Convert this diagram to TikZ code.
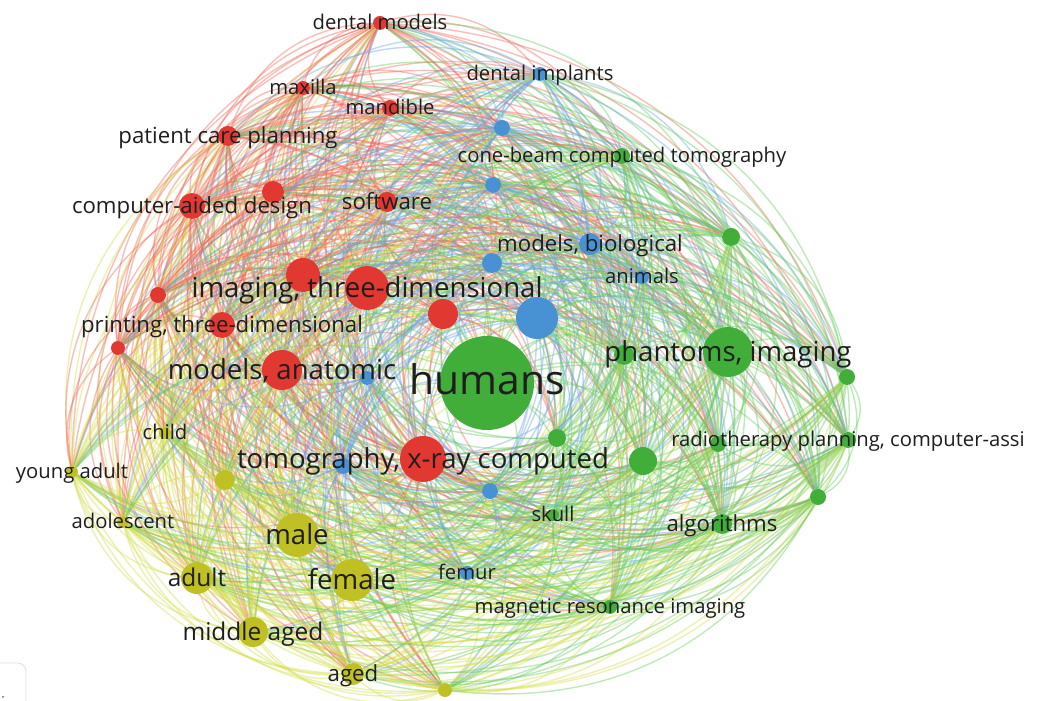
\documentclass[tikz,border=0pt]{standalone}
\usepackage{fontspec}
\setmainfont{Open Sans}
\usetikzlibrary{backgrounds}

\definecolor{nr}{RGB}{226,56,50}
\definecolor{nb}{RGB}{72,146,212}
\definecolor{ng}{RGB}{66,174,58}
\definecolor{ny}{RGB}{192,192,36}
\definecolor{er}{RGB}{240,104,88}
\definecolor{eb}{RGB}{106,166,226}
\definecolor{eg}{RGB}{104,204,92}
\definecolor{ey}{RGB}{212,222,70}
\definecolor{txt}{RGB}{30,30,30}

\tikzset{
  bubble/.style={circle, fill=n#1, inner sep=0pt},
  link/.style={line width=1pt, opacity=0.42},
  tag/.style={text=txt, inner sep=0pt, text height=1ex, text depth=0pt},
  tagS/.style={tag, font=\fontsize{14.4}{16}\selectfont, yshift=-0.08cm},
  tagM/.style={tag, font=\fontsize{15.8}{18}\selectfont, yshift=-0.1cm},
  tagA/.style={tag, font=\fontsize{17.4}{20}\selectfont, yshift=-0.12cm},
  tagL/.style={tag, font=\fontsize{19.6}{22}\selectfont, yshift=-0.15cm},
  tagH/.style={tag, font=\fontsize{29}{32}\selectfont, yshift=-0.2cm}
}

% name/x/y/radius/cluster, in pixels of the map
\def\kwlist{dentalmodels/380/23/7/r, maxilla/303/88/7/r, mandible/390/108/8/r,
  patientcare/228/136/10/r, cad/192/206/13/r, redA/273/192/11/r, software/387/202/10/r,
  imaging/367/288/22/r, redB/303/275/17/r, redC/443/314/15/r, redD/158/295/8/r,
  printing/222/325/13/r, redE/118/348/7/r, anatomic/282/370/20/r, tomography/423/459/23/r,
  implants/540/74/7/b, blueA/502/128/8/b, blueB/493/185/8/b, modelsbio/590/244/11/b,
  blueC/492/263/10/b, animals/642/277/7/b, blueD/537/318/21/b, blueE/367/378/7/b,
  blueF/343/466/8/b, blueG/490/491/8/b, femur/467/573/7/b,
  humans/487/383/47/g, conebeam/622/156/8/g, greenA/731/237/9/g, phantoms/728/352/25/g,
  greenB/624/355/10/g, greenC/847/377/8/g, greenD/557/438/9/g, greenE/643/461/14/g,
  greenF/718/444/8/g, radiotherapy/848/440/8/g, greenG/818/497/8/g, algorithms/722/524/10/g,
  skull/553/515/6/g, mri/610/607/7/g,
  child/165/433/6/y, youngadult/72/472/6/y, yellowA/225/480/10/y, adolescent/123/522/6/y,
  male/297/535/22/y, adult/197/578/16/y, female/352/580/21/y, middleaged/253/632/15/y,
  aged/353/674/11/y, yellowB/445/690/7/y}

\begin{document}
\begin{tikzpicture}[x=0.025cm, y=-0.025cm]
\useasboundingbox (0,0) rectangle (1042,701);

% keywords
\foreach \a/\xa/\ya/\ra/\ca in \kwlist
  \node[bubble=\ca, minimum size=\ra*0.05cm] (\a) at (\xa,\ya) {};

% co-occurrence links, bowed away from the middle of the map
\begin{pgfonlayer}{background}
\fill[white] (0,0) rectangle (1042,701);
\foreach \a/\xa/\ya/\ra/\ca [count=\i] in \kwlist {
  \foreach \b/\xb/\yb/\rb/\cb [count=\j] in \kwlist {
    \ifnum\j>\i
      \pgfmathsetmacro\bnd{((\xb-\xa)/100*(385-\ya)/100-(\yb-\ya)/100*(487-\xa)/100)>0 ? 34 : -34}
      \ifodd\numexpr\i+\j\relax \def\ec{e\ca}\else \def\ec{e\cb}\fi
      \draw[link, \ec] (\a) to[bend left=\bnd] (\b);
    \fi
  }
}
\end{pgfonlayer}

% labels
\foreach \n/\t/\s in {dentalmodels/dental models/tagS, maxilla/maxilla/tagS,
  mandible/mandible/tagS, patientcare/patient care planning/tagM,
  cad/computer-aided design/tagM, software/software/tagM,
  imaging/{imaging, three-dimensional}/tagL, printing/{printing, three-dimensional}/tagM,
  anatomic/{models, anatomic}/tagL, tomography/{tomography, x-ray computed}/tagL,
  implants/dental implants/tagS, conebeam/cone-beam computed tomography/tagS,
  modelsbio/{models, biological}/tagM, animals/animals/tagS, humans/humans/tagH,
  phantoms/{phantoms, imaging}/tagL, radiotherapy/{radiotherapy planning, computer-assi}/tagS,
  algorithms/algorithms/tagM, skull/skull/tagS, mri/magnetic resonance imaging/tagS,
  femur/femur/tagS, child/child/tagS, youngadult/young adult/tagS,
  adolescent/adolescent/tagS, male/male/tagL, adult/adult/tagA, female/female/tagL,
  middleaged/middle aged/tagA, aged/aged/tagM}
  \node[\s] (\n-t) at (\n) {\t};

% corner of the zoom widget
\draw[black!12, line width=0.6pt, rounded corners=6] (0,663) -- (26,663) -- (26,701);
\fill[black!60] (3,697) circle (1);
\end{tikzpicture}
\end{document}
